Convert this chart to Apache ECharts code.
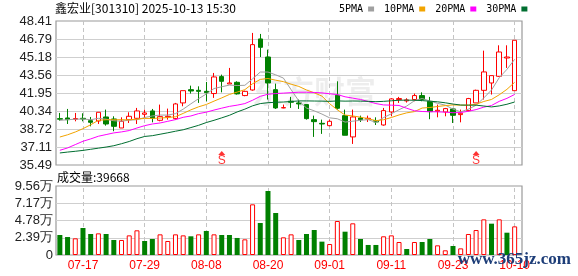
<!DOCTYPE html>
<html><head><meta charset="utf-8">
<script src="https://cdn.jsdelivr.net/npm/echarts@6/dist/echarts.min.js"></script>
<style>html,body{margin:0;padding:0;background:#fff}#c{width:578px;height:276px}</style>
</head><body><div id="c"></div>
<script>
const dates = ['07-14','07-15','07-16','07-17','07-18','07-21','07-22','07-23','07-24','07-25','07-28','07-29','07-30','07-31',
'08-01','08-04','08-05','08-06','08-07','08-08','08-11','08-12','08-13','08-14','08-15','08-18','08-19','08-20','08-21','08-22','08-25','08-26','08-27','08-28','08-29',
'09-01','09-02','09-03','09-04','09-05','09-08','09-09','09-10','09-11','09-12','09-15','09-16','09-17','09-18','09-19','09-22','09-23','09-24','09-25','09-26','09-29','09-30',
'10-09','10-10','10-13'];
const opens  = [39.65,39.71,39.60,39.68,39.47,39.44,39.80,39.62,38.81,39.56,39.68,40.04,40.34,39.50,39.80,39.65,41.06,42.25,42.19,42.10,
41.90,43.42,42.76,42.91,41.72,42.22,46.80,45.18,42.25,40.61,41.21,41.06,40.91,39.56,39.23,39.02,41.75,39.92,38.01,39.71,
39.62,39.47,39.08,40.25,41.36,41.24,41.36,41.72,41.20,40.31,40.25,40.52,40.01,40.37,41.06,42.19,42.85,43.45,45.09,42.16];
const closes = [39.60,39.56,39.66,39.62,39.32,40.22,39.17,38.96,39.41,39.86,40.34,40.16,39.68,39.83,39.86,40.97,42.16,42.13,42.10,41.98,
43.39,43.00,42.85,41.87,42.10,46.29,46.05,42.85,40.61,40.64,41.12,40.97,39.65,39.38,39.17,39.41,40.58,38.16,39.80,39.56,
39.68,39.35,40.37,41.42,41.45,41.33,41.72,41.36,40.28,40.40,40.55,39.95,40.13,41.45,42.19,43.84,43.51,45.63,45.18,46.68];
const lows   = [39.47,39.17,39.41,39.41,38.96,39.17,39.02,38.52,38.81,39.26,39.17,39.71,39.32,39.41,39.56,39.56,40.76,41.90,41.06,41.21,
41.51,42.01,42.76,41.81,41.66,42.16,45.18,41.36,40.52,40.58,40.61,40.52,39.56,38.01,38.28,38.96,40.46,38.16,37.38,39.35,
39.35,39.08,39.02,39.86,41.06,41.09,41.21,41.21,39.60,39.77,39.86,39.26,39.32,40.31,41.06,41.36,41.81,43.39,44.20,42.16];
const highs  = [40.16,40.52,40.16,40.13,39.80,40.22,40.46,39.86,39.77,40.22,40.61,40.46,40.52,40.91,40.55,41.06,42.16,42.61,42.55,42.94,
43.75,43.60,44.20,43.00,42.16,47.34,47.25,45.84,42.79,40.91,41.60,41.36,40.91,39.92,39.56,39.56,43.00,40.46,40.46,39.92,
39.92,39.77,40.61,41.48,41.60,41.48,41.90,42.01,41.60,40.91,40.61,40.61,40.46,41.51,42.25,45.75,43.51,46.23,46.23,46.68];
const ma5  = [39.50,39.55,39.60,39.62,39.55,39.68,39.60,39.46,39.42,39.52,39.55,39.75,39.89,39.97,39.97,40.10,40.50,40.98,41.44,41.86,
42.35,42.51,42.66,42.62,42.64,43.22,43.83,43.83,43.58,43.29,42.25,41.24,40.60,40.35,40.06,39.72,39.64,39.34,39.42,39.50,
39.56,39.31,39.75,40.08,40.45,40.78,41.26,41.46,41.23,41.02,40.86,40.51,40.26,40.50,40.85,41.51,42.22,43.32,44.07,44.97];
const ma10 = [38.00,38.20,38.45,38.75,39.10,39.50,39.55,39.55,39.55,39.54,39.61,39.67,39.67,39.70,39.75,39.82,40.12,40.44,40.71,40.92,
41.22,41.51,41.82,42.03,42.25,42.78,43.17,43.25,43.10,42.97,42.74,42.54,42.22,41.97,41.67,40.99,40.44,39.97,39.89,39.78,
39.64,39.47,39.55,39.75,39.98,40.17,40.28,40.60,40.65,40.74,40.82,40.88,40.86,40.86,40.94,41.19,41.37,41.79,42.28,42.91];
const ma20 = [36.81,37.02,37.32,37.62,37.83,38.07,38.22,38.37,38.46,38.58,38.81,39.02,39.17,39.26,39.41,39.56,39.77,39.89,40.10,40.23,
40.42,40.59,40.75,40.86,41.00,41.30,41.65,41.84,41.90,41.94,41.98,42.02,42.02,42.00,41.96,41.88,41.81,41.61,41.49,41.37,
41.19,41.00,40.88,40.86,40.83,40.58,40.36,40.29,40.27,40.26,40.23,40.18,40.20,40.31,40.46,40.68,40.83,41.20,41.47,41.82];
const ma30 = [36.57,36.65,36.72,36.80,36.90,37.00,37.10,37.22,37.40,37.60,37.85,38.05,38.12,38.25,38.38,38.52,38.65,38.85,39.05,39.30,
39.50,39.72,39.95,40.25,40.50,40.80,41.00,41.08,41.12,41.14,41.19,41.24,41.24,41.23,41.22,41.20,41.24,41.22,41.23,41.22,
41.20,41.17,41.20,41.25,41.30,41.31,41.30,41.27,41.21,41.16,41.07,40.96,40.87,40.86,40.86,40.78,40.70,40.79,40.94,41.14];
const volumes = [27700,24900,23100,37400,29100,30000,29100,20800,20800,27200,34200,19400,22200,28600,19400,28600,27200,25900,28600,33300,
28600,27700,27700,23600,21700,70200,44300,88700,58200,24500,28600,20800,29100,34600,18500,15200,47100,32300,43900,22200,
13900,13900,25900,27200,18000,8300,18000,18000,22200,13400,6500,12500,9200,29100,34600,49400,43400,49400,30900,39668];
const volUp = [0,0,1,0,0,1,0,0,1,1,1,0,0,1,1,1,1,0,1,0, 1,0,0,0,1,1,0,0,0,1,1,0,0,0,0,1,1,0,1,0, 0,0,1,1,1,0,1,0,0,1,1,0,1,1,1,1,0,1,0,1];
const priceTicks = ['35.49','37.11','38.72','40.34','41.95','43.56','45.18','46.79','48.41'];
const volTicks = ['0','2.39万','4.78万','7.17万','9.56万'];
const xTickIdx = [3,11,19,27,35,43,51,59];
const xTickLabels = ['07-17','07-29','08-08','08-20','09-01','09-11','09-23','10-10'];
const signalIdx = [21,54];
const maNames = ['5PMA','10PMA','20PMA','30PMA'];
const maColors = ['#a0a0a0','#f2a400','#ff00ff','#006e30'];
const maData = [ma5, ma10, ma20, ma30];

const RED = '#ff0000', GREEN = '#008000';
const PMIN = 35.49, PMAX = 48.41, VMAX = 95600;
const SANS = '"Liberation Sans", Arial, sans-serif';
const MONO = '"DejaVu Sans Mono", monospace';
const CJK = '"Noto Sans CJK SC", sans-serif';

const chart = echarts.init(document.getElementById('c'), null, {renderer: 'canvas'});
const candleData = opens.map((o, i) => [o, closes[i], lows[i], highs[i]]);
const volData = volumes.map((v, i) => ({
  value: v,
  itemStyle: volUp[i] ? {color: '#ffffff', borderColor: RED, borderWidth: 1} : {color: GREEN, borderColor: GREEN, borderWidth: 0}
}));
const vlines = {
  silent: true, symbol: ['none', 'none'], z: 1,
  label: {show: false},
  lineStyle: {color: '#c4c4c4', type: [4, 3], width: 1},
  data: xTickIdx.map(i => ({xAxis: dates[i]}))
};
const hiddenCat = (g) => ({gridIndex: g, type: 'category', data: dates, boundaryGap: true,
  axisLine: {show: false}, axisTick: {show: false}, axisLabel: {show: false}, splitLine: {show: false}});

const option = {
  animation: false,
  backgroundColor: '#ffffff',
  title: [
    {text: '鑫宏业[301310] 2025-10-13 15:30', left: 55, top: 2, padding: 0,
     textStyle: {fontSize: 12, fontWeight: 'normal', color: '#000', fontFamily: CJK}},
    {text: '成交量:' + volumes[volumes.length - 1], left: 57, top: 171, padding: 0,
     textStyle: {fontSize: 12, fontWeight: 'normal', color: '#000', fontFamily: CJK}}
  ],
  legend: {
    left: 339, top: 4, padding: 0, itemGap: 10, itemWidth: 6, itemHeight: 5, align: 'right', icon: 'rect',
    data: maNames,
    textStyle: {fontSize: 10, color: '#000', fontFamily: MONO}
  },
  grid: [
    {left: 56, top: 21, width: 466, height: 144, show: true, borderColor: '#9a9a9a', borderWidth: 1.2, backgroundColor: 'rgba(0,0,0,0)'},
    {left: 56, top: 21, width: 462.5, height: 144},
    {left: 56, top: 186, width: 466, height: 69, show: true, borderColor: '#9a9a9a', borderWidth: 1.2, backgroundColor: 'rgba(0,0,0,0)'},
    {left: 56, top: 186, width: 462.5, height: 69}
  ],
  xAxis: [
    {gridIndex: 0, type: 'value', min: 0, max: 1, show: false},
    hiddenCat(1),
    {gridIndex: 2, type: 'value', min: 0, max: 1, show: false},
    Object.assign(hiddenCat(3), {
      axisLabel: {show: true, color: RED, fontSize: 12, margin: 5, fontFamily: SANS,
        interval: (i) => xTickIdx.indexOf(i) >= 0,
        formatter: (v, i) => { const k = xTickIdx.indexOf(i); return k >= 0 ? xTickLabels[k] : ''; }}
    })
  ],
  yAxis: [
    {gridIndex: 0, type: 'value', min: 0, max: 8, interval: 1,
     axisLine: {show: false}, axisTick: {show: false},
     axisLabel: {color: '#222', fontSize: 13, margin: 4, fontFamily: SANS, formatter: (v) => priceTicks[v]},
     splitLine: {show: true, showMinLine: false, showMaxLine: false, lineStyle: {color: '#cfcfcf', width: 1}}},
    {gridIndex: 1, type: 'value', min: PMIN, max: PMAX, show: false, splitLine: {show: false}},
    {gridIndex: 2, type: 'value', min: 0, max: 4, interval: 1,
     axisLine: {show: false}, axisTick: {show: false},
     axisLabel: {color: '#222', fontSize: 13, margin: 3, fontFamily: SANS, formatter: (v) => volTicks[v]},
     splitLine: {show: true, showMinLine: false, showMaxLine: false, lineStyle: {color: '#cfcfcf', width: 1}}},
    {gridIndex: 3, type: 'value', min: 0, max: VMAX, show: false, splitLine: {show: false}}
  ],
  graphic: [
    {type: 'text', left: 252, top: 76, z: 0, silent: true,
     style: {text: '东方财富', font: 'bold 31px "Noto Sans CJK SC"', fill: 'rgba(0,0,0,0.07)'}},
    {type: 'text', right: 7, top: 251, z: 100, silent: true,
     style: {text: 'www.365jz.com', font: 'bold 17px "Liberation Serif", serif', fill: '#1d3d78'}}
  ],
  series: [
    {type: 'candlestick', name: 'K', xAxisIndex: 1, yAxisIndex: 1, z: 2, barWidth: 5,
     data: candleData,
     itemStyle: {color: '#ffffff', color0: GREEN, borderColor: RED, borderColor0: GREEN, borderWidth: 1},
     markLine: vlines},
    ...maNames.map((n, k) => ({
      type: 'line', name: n, xAxisIndex: 1, yAxisIndex: 1, z: 3, data: maData[k],
      showSymbol: false, symbol: 'none', color: maColors[k],
      itemStyle: {color: maColors[k]}, lineStyle: {color: maColors[k], width: 1}
    })),
    {type: 'scatter', name: 'S', xAxisIndex: 1, yAxisIndex: 1, z: 4,
     data: signalIdx.map(i => [dates[i], PMIN]),
     symbol: 'triangle', symbolSize: [7, 4], symbolOffset: [0, -12],
     itemStyle: {color: RED},
     label: {show: true, position: 'inside', offset: [0, 8], formatter: 'S', color: RED, fontSize: 12, fontFamily: SANS}},
    {type: 'bar', name: 'VOL', xAxisIndex: 3, yAxisIndex: 3, barWidth: 5, z: 2, data: volData, markLine: vlines}
  ]
};
chart.setOption(option);
</script></body></html>
